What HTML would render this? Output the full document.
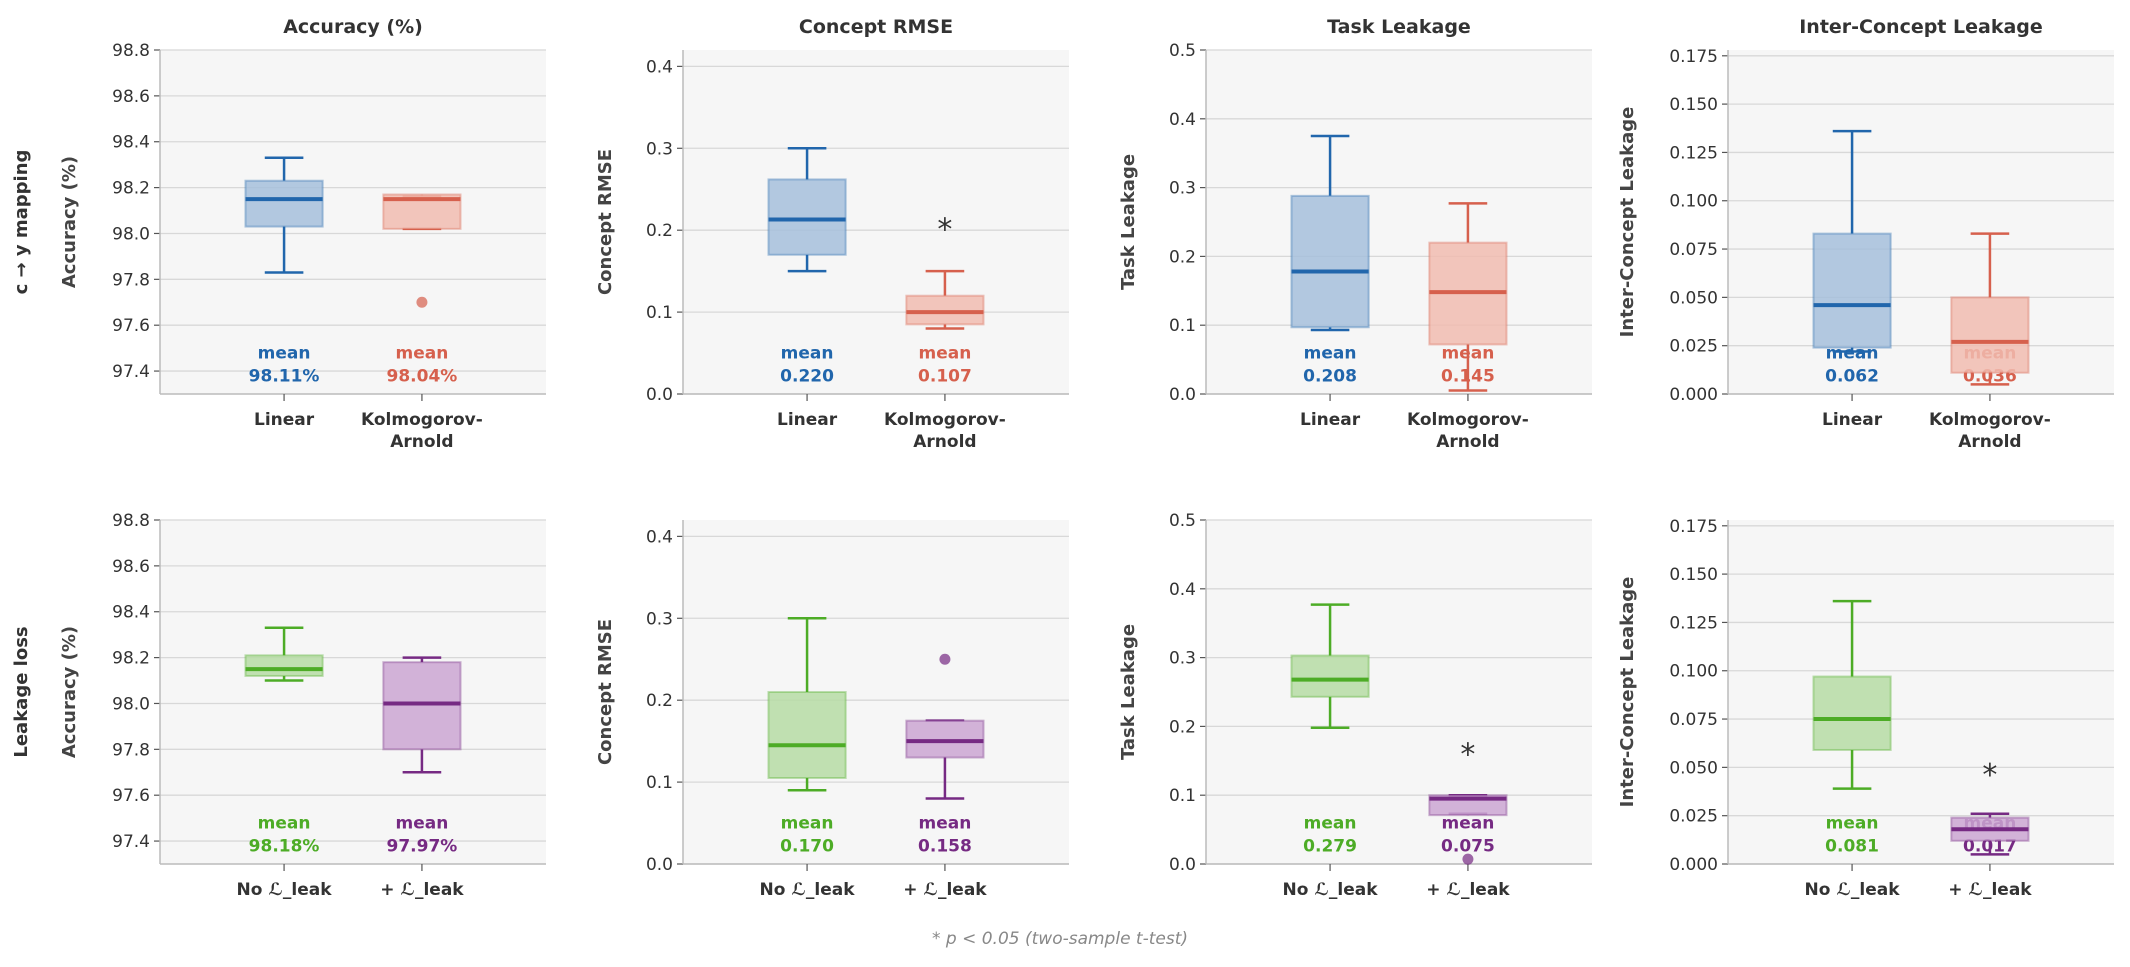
<!DOCTYPE html>
<html><head><meta charset="utf-8"><style>
body{margin:0;background:#fff;}
svg{display:block;font-family:"DejaVu Sans","Liberation Sans",sans-serif;}
</style></head><body>
<svg id="fig" width="2130" height="967" viewBox="0 0 2130 967" xmlns="http://www.w3.org/2000/svg"></svg>
<script>
const metrics = ["Accuracy (%)", "Concept RMSE", "Task Leakage", "Inter-Concept Leakage"];
const rowLabels = ["c → y mapping", "Leakage loss"];
const cats1 = ["Linear", "Kolmogorov-|Arnold"];
const cats2 = ["No ℒ_leak", "+ ℒ_leak"];
const ylims = [[97.3, 98.8], [0, 0.42], [0, 0.5], [0, 0.178]];
const yticks = [[97.4, 97.6, 97.8, 98.0, 98.2, 98.4, 98.6, 98.8], [0, 0.1, 0.2, 0.3, 0.4], [0, 0.1, 0.2, 0.3, 0.4, 0.5], [0, 0.025, 0.05, 0.075, 0.1, 0.125, 0.15, 0.175]];
const tickDigits = [1, 1, 1, 3];
// box stats: [whiskerLow, q1, median, q3, whiskerHigh]
const row1Boxes = [
  [[97.83, 98.03, 98.15, 98.23, 98.33], [98.02, 98.02, 98.15, 98.17, 98.16]],
  [[0.15, 0.17, 0.213, 0.262, 0.30], [0.08, 0.085, 0.10, 0.12, 0.15]],
  [[0.093, 0.097, 0.178, 0.288, 0.375], [0.005, 0.072, 0.148, 0.22, 0.277]],
  [[0.022, 0.024, 0.046, 0.083, 0.136], [0.005, 0.011, 0.027, 0.05, 0.083]]
];
const row2Boxes = [
  [[98.10, 98.12, 98.15, 98.21, 98.33], [97.70, 97.80, 98.00, 98.18, 98.20]],
  [[0.09, 0.105, 0.145, 0.21, 0.30], [0.08, 0.13, 0.15, 0.175, 0.175]],
  [[0.198, 0.243, 0.268, 0.303, 0.377], [0.073, 0.071, 0.095, 0.10, 0.10]],
  [[0.039, 0.059, 0.075, 0.097, 0.136], [0.005, 0.012, 0.018, 0.024, 0.026]]
];
const row1Outliers = [[[], [97.70]], [[], []], [[], []], [[], []]];
const row2Outliers = [[[], []], [[], [0.25]], [[], [0.007]], [[], []]];
const row1Means = [["98.11%", "98.04%"], ["0.220", "0.107"], ["0.208", "0.145"], ["0.062", "0.036"]];
const row2Means = [["98.18%", "97.97%"], ["0.170", "0.158"], ["0.279", "0.075"], ["0.081", "0.017"]];
const row1Stars = [null, 0.206, null, null];
const row2Stars = [null, null, 0.165, 0.048];

const colors = [[["#2166ac", "#a6bfdc"], ["#d6604d", "#f1bcb0"]], [["#4dac26", "#b6dca5"], ["#762a83", "#cba6d2"]]];
const svg = document.getElementById('fig');
const NS = "http://www.w3.org/2000/svg";
function mk(tag, attrs, parent, text) {
  const e = document.createElementNS(NS, tag);
  for (const k in attrs) e.setAttribute(k, attrs[k]);
  if (text !== undefined) e.textContent = text;
  (parent || svg).appendChild(e);
  return e;
}
const colX = [160, 683, 1206, 1728];
const yLabX = [75, 611, 1134, 1633];
const rowY = [50, 520];
const W = 386, H = 344;
const xlim = [-0.9, 1.9];

for (let r = 0; r < 2; r++) {
  const rl = mk('text', {x: 27, y: rowY[r] + H / 2, 'font-size': 18, 'font-weight': 'bold', fill: '#333', 'text-anchor': 'middle', transform: `rotate(-90 27 ${rowY[r] + H / 2})`}, svg, rowLabels[r]);
  
  
  const boxes = r === 0 ? row1Boxes : row2Boxes;
  const outs = r === 0 ? row1Outliers : row2Outliers;
  const means = r === 0 ? row1Means : row2Means;
  const stars = r === 0 ? row1Stars : row2Stars;
  const cats = r === 0 ? cats1 : cats2;
  for (let c = 0; c < 4; c++) {
    const g = mk('g', {});
    
    
    const L = colX[c], T = rowY[r];
    const yl = ylims[c];
    const ys = v => T + H - (v - yl[0]) / (yl[1] - yl[0]) * H;
    const xs = v => L + (v - xlim[0]) / (xlim[1] - xlim[0]) * W;
    mk('rect', {x: L, y: T, width: W, height: H, fill: '#f6f6f6'}, g);
    if (r === 0) {
      const t = mk('text', {x: L + W / 2, y: 33, 'font-size': 19, 'font-weight': 'bold', fill: '#333', 'text-anchor': 'middle'}, g, metrics[c]);
      
      
    }
    const yt = mk('text', {x: yLabX[c], y: T + H / 2, 'font-size': 18, 'font-weight': 'bold', fill: '#444', 'text-anchor': 'middle', transform: `rotate(-90 ${yLabX[c]} ${T + H / 2})`}, g, metrics[c]);
    
    
    yticks[c].forEach(v => {
      const y = ys(v);
      mk('line', {x1: L, x2: L + W, y1: y, y2: y, stroke: '#d8d8d8', 'stroke-width': 1.3}, g);
      mk('line', {x1: L - 6, x2: L, y1: y, y2: y, stroke: '#555', 'stroke-width': 1.2}, g);
      const tl = mk('text', {x: L - 10, y: y + 6, 'font-size': 17, fill: '#333', 'text-anchor': 'end'}, g, v.toFixed(tickDigits[c]));
      
      
    });
    mk('line', {x1: L, x2: L, y1: T, y2: T + H, stroke: '#bbb', 'stroke-width': 1.5}, g);
    mk('line', {x1: L, x2: L + W, y1: T + H, y2: T + H, stroke: '#bbb', 'stroke-width': 1.5}, g);
    for (let i = 0; i < 2; i++) {
      const cx = xs(i);
      const [col, fill] = colors[r][i];
      mk('line', {x1: cx, x2: cx, y1: T + H, y2: T + H + 7, stroke: '#555', 'stroke-width': 1.2}, g);
      const parts = cats[i].split('|');
      parts.forEach((p, k) => {
        const xl = mk('text', {x: cx, y: T + H + 31 + k * 22, 'font-size': 17, 'font-weight': 'bold', fill: '#333', 'text-anchor': 'middle'}, g, p);
        
        
      });
      const m1 = mk('text', {x: cx, y: T + H * 0.88 + 6, 'font-size': 17, 'font-weight': 'bold', fill: col, 'text-anchor': 'middle'}, g, 'mean');
      
      
      const m2 = mk('text', {x: cx, y: T + H * 0.94 + 8, 'font-size': 17, 'font-weight': 'bold', fill: col, 'text-anchor': 'middle'}, g, means[c][i]);
      
      
      const b = boxes[c][i];
      const bw = 0.56 * W / (xlim[1] - xlim[0]);
      const cw = bw / 2;
      const bg = mk('g', {}, g);
      
      
      mk('line', {x1: cx, x2: cx, y1: ys(b[0]), y2: ys(b[1]), stroke: col, 'stroke-width': 2.5}, bg);
      mk('line', {x1: cx, x2: cx, y1: ys(b[3]), y2: ys(b[4]), stroke: col, 'stroke-width': 2.5}, bg);
      mk('line', {x1: cx - cw / 2, x2: cx + cw / 2, y1: ys(b[0]), y2: ys(b[0]), stroke: col, 'stroke-width': 2.5}, bg);
      mk('line', {x1: cx - cw / 2, x2: cx + cw / 2, y1: ys(b[4]), y2: ys(b[4]), stroke: col, 'stroke-width': 2.5}, bg);
      const top = Math.min(ys(b[1]), ys(b[3])), bot = Math.max(ys(b[1]), ys(b[3]));
      mk('rect', {x: cx - bw / 2, y: top, width: bw, height: Math.max(bot - top, 1), fill: fill, 'fill-opacity': 0.85, stroke: col, 'stroke-opacity': 0.35, 'stroke-width': 2}, bg);
      mk('line', {x1: cx - bw / 2, x2: cx + bw / 2, y1: ys(b[2]), y2: ys(b[2]), stroke: col, 'stroke-width': 4}, bg);
      outs[c][i].forEach(v => {
        const o = mk('circle', {cx: cx, cy: ys(v), r: 5.5, fill: col, 'fill-opacity': 0.7}, bg);
        
        
      });
    }
    if (stars[c] !== null) {
      const s = mk('text', {x: xs(1), y: ys(stars[c]) + 14, 'font-size': 30, fill: '#333', 'text-anchor': 'middle'}, g, '*');
      
      
    }
  }
}
const fn = mk('text', {x: 1060, y: 944, 'font-size': 17, 'font-style': 'italic', fill: '#888', 'text-anchor': 'middle'}, svg, '* p < 0.05 (two-sample t-test)');


</script>
</body></html>
